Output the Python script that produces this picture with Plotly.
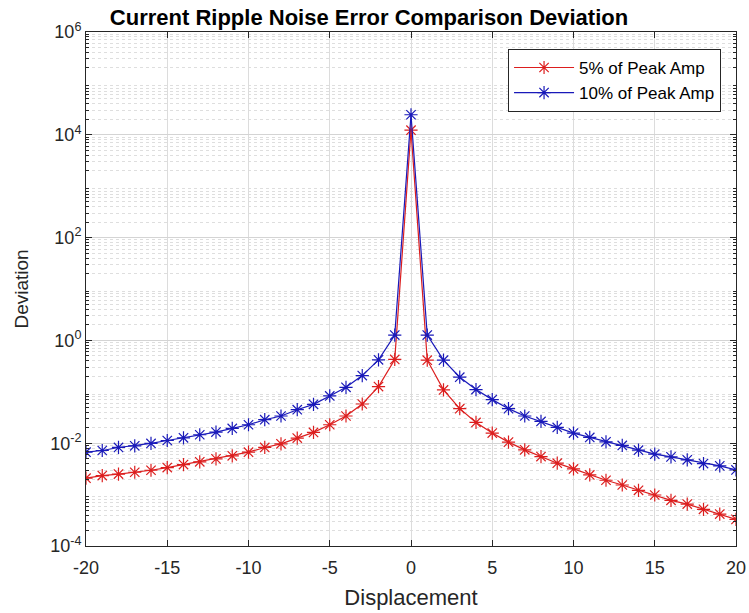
import plotly.graph_objects as go

x_vals = list(range(-20, 21))

# log10 of deviation
log_5pct = [-2.68, -2.63, -2.60, -2.565, -2.526, -2.474, -2.415, -2.363, -2.305, -2.246,
            -2.174, -2.083, -2.012, -1.901, -1.790, -1.641, -1.471, -1.237, -0.898, -0.371,
            4.09,
            -0.385, -0.963, -1.328, -1.596, -1.803, -1.979, -2.129, -2.260, -2.389, -2.500,
            -2.617, -2.721, -2.813, -2.916, -3.008, -3.111, -3.184, -3.287, -3.379, -3.482]
log_10pct = [-2.174, -2.142, -2.083, -2.051, -2.005, -1.947, -1.895, -1.836, -1.784, -1.712,
             -1.641, -1.543, -1.471, -1.348, -1.244, -1.081, -0.912, -0.684, -0.378, 0.104,
             4.39,
             0.104, -0.385, -0.716, -0.957, -1.152, -1.328, -1.471, -1.576, -1.693, -1.803,
             -1.888, -1.973, -2.044, -2.135, -2.213, -2.266, -2.324, -2.396, -2.441, -2.520]

dev_5pct = [10 ** v for v in log_5pct]
dev_10pct = [10 ** v for v in log_10pct]

series_names = ["5% of Peak Amp", "10% of Peak Amp"]
series_colors = ["rgb(220,30,30)", "rgb(25,25,185)"]

x_ticks = [-20, -15, -10, -5, 0, 5, 10, 15, 20]
y_exps = [-4, -2, 0, 2, 4, 6]

FONT = "Liberation Sans, Arial, Helvetica, sans-serif"

fig = go.Figure()
for name, yv, col in zip(series_names, [dev_5pct, dev_10pct], series_colors):
    fig.add_trace(go.Scatter(
        x=x_vals, y=yv, name=name, mode="lines+markers",
        line=dict(color=col, width=1.2),
        marker=dict(symbol="asterisk-open", size=11, color=col,
                    line=dict(color=col, width=1.2)),
    ))

minor_vals = [m * 10 ** e for e in range(-4, 6) for m in range(2, 10)]

fig.update_layout(
    width=749, height=613,
    margin=dict(l=86, r=13, t=32, b=67, autoexpand=False),
    paper_bgcolor="white", plot_bgcolor="white",
    font=dict(family=FONT, size=18, color="#262626"),
    title=dict(text="<b>Current Ripple Noise Error Comparison Deviation</b>",
               x=369 / 749, xref="container", xanchor="center",
               y=1 - 17 / 613, yref="container", yanchor="middle",
               font=dict(size=22, color="black", family=FONT)),
    showlegend=True,
    legend=dict(x=0.977, y=0.967, xanchor="right", yanchor="top",
                bgcolor="white", bordercolor="#262626", borderwidth=1,
                font=dict(size=17, color="black"), tracegroupgap=0,
                itemwidth=60),
)

fig.update_xaxes(
    range=[-20, 20], tickvals=x_ticks, ticktext=[str(t) for t in x_ticks],
    ticks="inside", ticklen=6, tickcolor="#262626", ticklabelstandoff=5,
    showline=True, linecolor="#262626", linewidth=1, mirror="ticks",
    showgrid=True, gridcolor="#dcdcdc", gridwidth=1, zeroline=False,
    automargin=False,
    title=dict(text="Displacement", font=dict(size=22), standoff=13),
    tickfont=dict(size=18),
)
fig.update_yaxes(
    type="log", range=[-4, 6],
    tickvals=[10 ** e for e in y_exps],
    ticktext=[f"10<sup>{e}</sup>" for e in y_exps],
    ticks="inside", ticklen=6, tickcolor="#262626",
    showline=True, linecolor="#262626", linewidth=1, mirror="ticks",
    showgrid=True, gridcolor="#d4d4d4", gridwidth=1, zeroline=False,
    automargin=False,
    minor=dict(tickvals=minor_vals, ticks="inside", ticklen=3, tickcolor="#262626",
               showgrid=True, gridcolor="#dedede", griddash="dot", gridwidth=1),
    title=dict(text="Deviation", font=dict(size=19), standoff=16),
    tickfont=dict(size=18),
)

fig.write_html("out.html")
